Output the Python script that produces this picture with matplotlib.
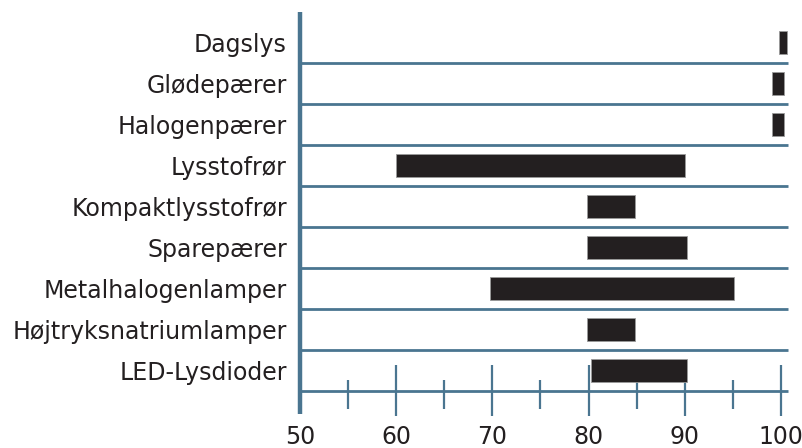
import matplotlib
matplotlib.use("Agg")
import matplotlib.pyplot as plt
import numpy as np

categories = ["Dagslys", "Glødepærer", "Halogenpærer", "Lysstofrør",
              "Kompaktlysstofrør", "Sparepærer", "Metalhalogenlamper",
              "Højtryksnatriumlamper", "LED-Lysdioder"]
range_start = [99.8, 99.1, 99.1, 60.0, 79.8, 79.8, 69.8, 79.8, 80.2]
range_end = [100.6, 100.3, 100.3, 90.0, 84.8, 90.2, 95.1, 84.8, 90.2]
major_ticks = [50, 60, 70, 80, 90, 100]
minor_ticks = [55, 65, 75, 85, 95]

BLUE = "#4a7590"
DARK = "#231f20"

W, H = 803, 448
fig = plt.figure(figsize=(W / 100, H / 100), dpi=100)
plt.rcParams['font.family'] = ['DejaVu Sans']

xmin, xmax = 50, 100.7
px_per_unit = 9.62
left_px = 300
ax_w_px = (xmax - xmin) * px_per_unit
row_px = 41.0
ytop, ybot = -0.75, 9.1

def ypix(v):
    return 63 + (v - 0.5) * row_px

ax = fig.add_axes([left_px / W, 1 - ypix(ybot) / H, ax_w_px / W, (ypix(ybot) - ypix(ytop)) / H])
ax.set_xlim(xmin, xmax)
ax.set_ylim(ybot, ytop)
for s in ax.spines.values():
    s.set_visible(False)

n = len(categories)
y = np.arange(n)
widths = np.array(range_end) - np.array(range_start)
ax.barh(y, widths, left=range_start, height=0.57, color=DARK,
        edgecolor="#9a9a9a", linewidth=0.6, zorder=3)

# row separators and baseline
for k in range(n):
    ax.plot([xmin, xmax], [k + 0.5, k + 0.5], color=BLUE, lw=2.0,
            solid_capstyle="butt", zorder=2, clip_on=False)
base = n - 0.5
# vertical axis line
ax.plot([xmin, xmin], [ytop + 0.01, ybot - 0.03], color=BLUE, lw=3.2,
        solid_capstyle="butt", zorder=4, clip_on=False)
# tick marks
for t in major_ticks[1:]:
    ax.plot([t, t], [base - 0.63, base + 0.6], color=BLUE, lw=1.6,
            solid_capstyle="butt", zorder=2, clip_on=False)
for t in minor_ticks:
    ax.plot([t, t], [base - 0.27, base + 0.44], color=BLUE, lw=1.6,
            solid_capstyle="butt", zorder=2, clip_on=False)

ax.set_yticks(y)
ax.set_yticklabels(categories, fontsize=17, color=DARK)
ax.tick_params(axis="y", length=0, pad=9.5)
ax.set_xticks(major_ticks)
ax.set_xticklabels([str(t) for t in major_ticks], fontsize=17, color=DARK)
ax.tick_params(axis="x", length=0, pad=7)

fig.savefig("out.png", dpi=100)
